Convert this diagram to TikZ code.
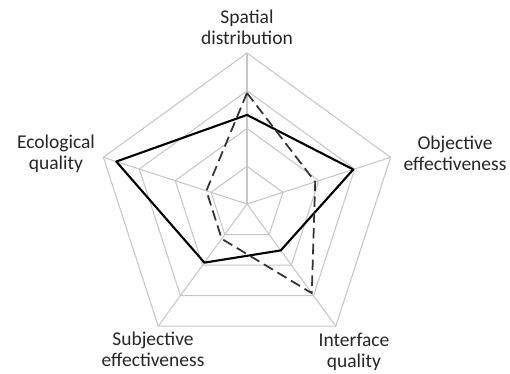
\documentclass[tikz,border=0pt]{standalone}
\usepackage{fontspec}
\setmainfont{Carlito}
\tikzset{
  gridline/.style={draw=black!22,line width=0.6pt},
  seriesA/.style={draw=black,line width=1.2pt,line join=round},
  seriesB/.style={draw=black!80,line width=1.0pt,dash pattern=on 6pt off 3pt,line join=round},
  axislabel/.style={align=center,inner sep=0pt,font=\fontsize{11.1}{12}\selectfont,text=black!85}
}
\begin{document}
\begin{tikzpicture}[x=0.02cm,y=0.02cm]
  \useasboundingbox (-247,-169) rectangle (263,204);
  \pgfmathsetmacro\rad{151}

% grid: four pentagons and the spokes
  \foreach \l in {1,...,4} {
      \draw[gridline] (90:{\l*\rad/4}) -- (18:{\l*\rad/4}) -- (-54:{\l*\rad/4})
          -- (-126:{\l*\rad/4}) -- (162:{\l*\rad/4}) -- cycle;
  }
  \foreach \a in {90,18,-54,-126,162} {
      \draw[gridline] (0,0) -- (\a:\rad);
  }

% series: solid
  \draw[seriesA] (90:0.59*\rad) -- (18:0.74*\rad) -- (-54:0.38*\rad)
      -- (-126:0.48*\rad) -- (162:0.91*\rad) -- cycle;

% series: dashed
  \draw[seriesB] (90:0.735*\rad) -- (18:0.475*\rad) -- (-54:0.73*\rad)
      -- (-126:0.285*\rad) -- (162:0.283*\rad) -- cycle;

% axis labels
  \node[axislabel] (spatial)    at (0,177)     {Spatial\\distribution};
  \node[axislabel] (objective)  at (208,51)    {Objective\\effectiveness};
  \node[axislabel] (interface)  at (107,-148)  {Interface\\quality};
  \node[axislabel] (subjective) at (-94,-145)  {Subjective\\effectiveness};
  \node[axislabel] (ecological) at (-191,50.5) {Ecological\\quality};

\end{tikzpicture}
\end{document}
